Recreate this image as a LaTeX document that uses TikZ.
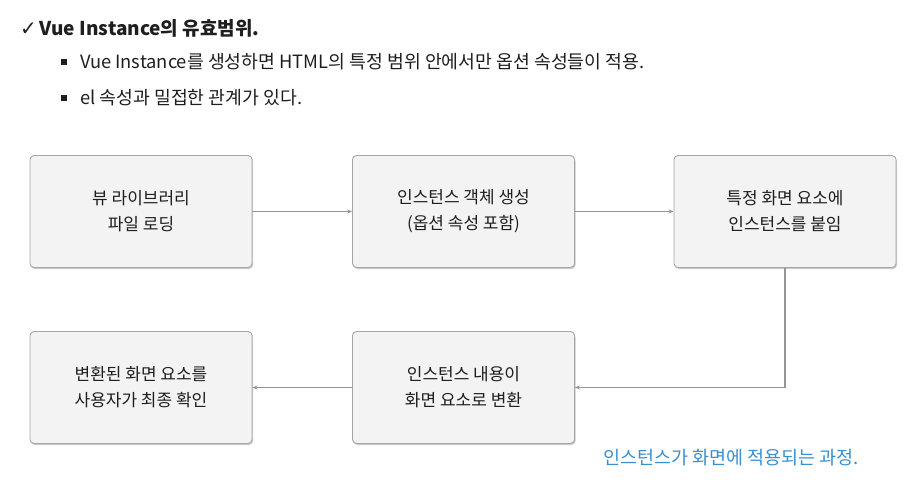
\documentclass[tikz,border=0pt]{standalone}
\usepackage{fontspec}
\setmainfont{Noto Sans CJK KR}
\newfontfamily\symfont{DejaVu Sans}
\usetikzlibrary{shadows,arrows.meta}
\definecolor{boxfill}{HTML}{F3F3F3}
\definecolor{boxline}{HTML}{A6A6A6}
\definecolor{conn}{HTML}{959595}
\definecolor{capblue}{HTML}{3A8FD0}
\definecolor{txt}{HTML}{1E1E1E}
\tikzset{
  stepbox/.style={draw=boxline, line width=0.9pt, fill=boxfill, rounded corners=4pt,
    minimum width=222pt, minimum height=112pt, align=center, text=txt,
    font=\fontsize{17}{26}\selectfont,
    drop shadow={shadow xshift=1pt, shadow yshift=-1.5pt, opacity=0.35, fill=black!60}},
  flow/.style={draw=conn, line width=1.2pt, -{Stealth[length=5pt,width=4pt]}},
  bulletsq/.style={fill=txt, minimum size=5.5pt, inner sep=0pt},
  bodytext/.style={anchor=west, text=txt, inner sep=0pt, font=\fontsize{18.3}{22}\selectfont}
}
\begin{document}
\begin{tikzpicture}[x=1pt,y=-1pt]
\useasboundingbox (0,0) rectangle (924,487);
\node[anchor=west, text=txt, inner sep=0pt] (title) at (20,28)
  {{\symfont\fontsize{20}{22}\selectfont ✓}\hspace{3pt}\fontsize{19}{24}\selectfont\bfseries Vue Instance의 유효범위.};
\node[bulletsq] (b1) at (64,62) {};
\node[bodytext] (t1) at (80,62)
  {Vue Instance를 생성하면 HTML의 특정 범위 안에서만 옵션 속성들이 적용.};
\node[bulletsq] (b2) at (64,98) {};
\node[bodytext] (t2) at (80,98)
  {el 속성과 밀접한 관계가 있다.};

\node[stepbox] (n1) at (141,211.5) {뷰 라이브러리\\파일 로딩};
\node[stepbox] (n2) at (463.5,211.5) {인스턴스 객체 생성\\(옵션 속성 포함)};
\node[stepbox] (n3) at (785,211.5) {특정 화면 요소에\\인스턴스를 붙임};
\node[stepbox] (n4) at (141,387.5) {변환된 화면 요소를\\사용자가 최종 확인};
\node[stepbox] (n5) at (463.5,387.5) {인스턴스 내용이\\화면 요소로 변환};

\draw[flow] (n1) -- (n2);
\draw[flow] (n2) -- (n3);
\draw[flow] (n3.south) |- (n5.east);
\draw[flow] (n5) -- (n4);

\node[anchor=west, text=capblue, inner sep=0pt, font=\fontsize{18.5}{22}\selectfont] (cap) at (603,458)
  {인스턴스가 화면에 적용되는 과정.};
\end{tikzpicture}
\end{document}
